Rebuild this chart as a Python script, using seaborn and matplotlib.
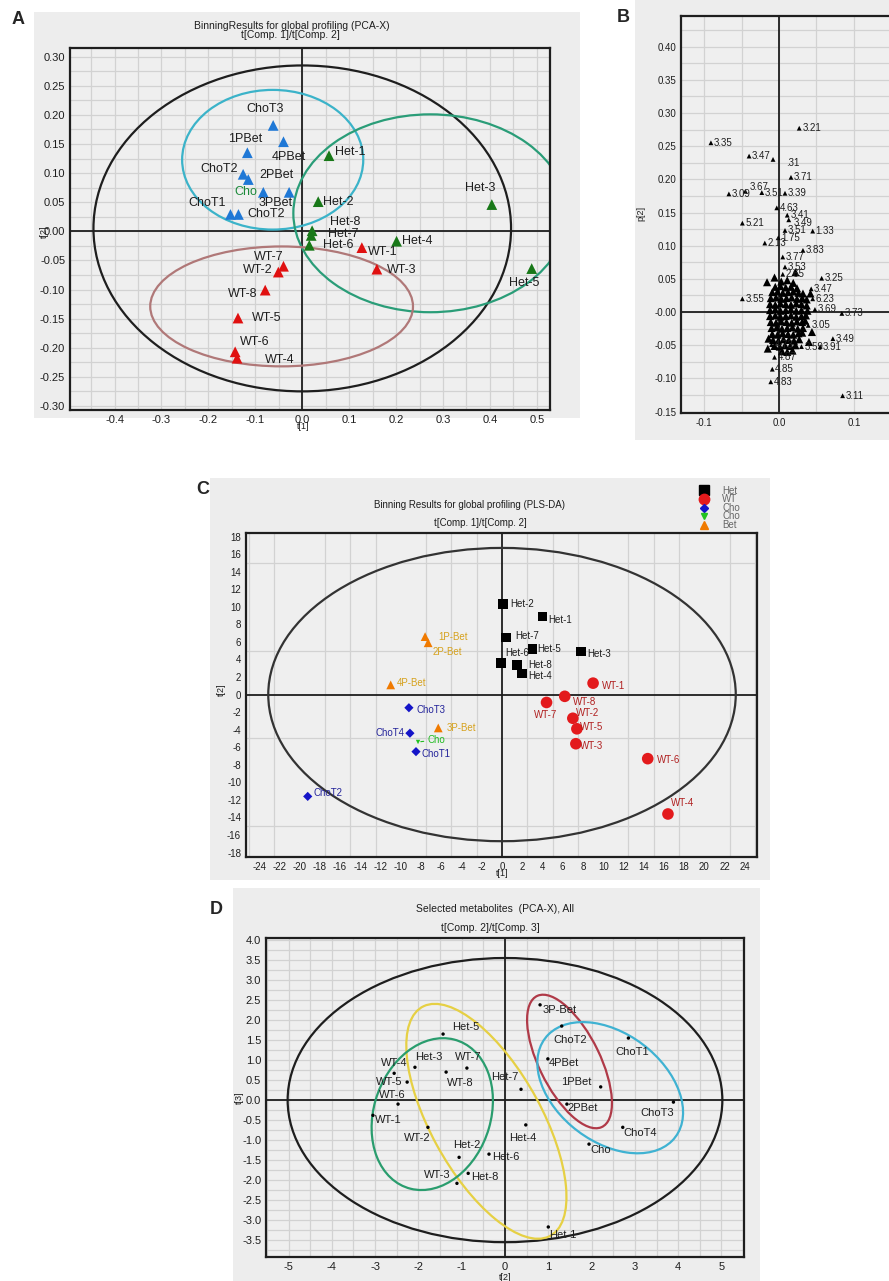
import numpy as np
import pandas as pd
import matplotlib.pyplot as plt
import seaborn as sns
from matplotlib.patches import Ellipse, Rectangle
from matplotlib.ticker import MultipleLocator, FuncFormatter
from matplotlib.lines import Line2D

sns.set_style("white")
plt.rcParams["font.family"] = ["Liberation Sans", "DejaVu Sans"]
plt.rcParams["axes.unicode_minus"] = False

W, H = 889, 1281
BOX = "#ededed"
BG = "#efefef"
GRID = "#d2d2d2"
INK = "#1e1e1e"

# ---------------- panel A : PCA-X scores ----------------
a_names = ["ChoT3", "4PBet", "1PBet", "ChoT2", "2PBet", "Cho", "3PBet", "ChoT1", "ChoT2",
           "Het-1", "Het-2", "Het-3", "Het-8", "Het-7", "Het-6", "Het-4", "Het-5",
           "WT-1", "WT-3", "WT-7", "WT-2", "WT-8", "WT-5", "WT-6", "WT-4"]
a_t1 = [-0.062, -0.040, -0.117, -0.126, -0.115, -0.083, -0.028, -0.153, -0.136,
        0.057, 0.034, 0.404, 0.021, 0.019, 0.015, 0.201, 0.489,
        0.127, 0.159, -0.040, -0.051, -0.079, -0.137, -0.143, -0.139]
a_t2 = [0.182, 0.154, 0.135, 0.098, 0.089, 0.067, 0.067, 0.029, 0.029,
        0.130, 0.051, 0.046, 0.001, -0.007, -0.024, -0.017, -0.064,
        -0.028, -0.065, -0.060, -0.070, -0.101, -0.149, -0.207, -0.218]
a_group = ["ChoBet"] * 9 + ["Het"] * 8 + ["WT"] * 8
# confidence ellipses: centre x, centre y, width, height
a_ell_cx = [0.0, -0.063, 0.273, -0.044]
a_ell_cy = [0.005, 0.123, 0.031, -0.129]
a_ell_w = [0.89, 0.386, 0.584, 0.56]
a_ell_h = [0.56, 0.24, 0.34, 0.206]

# ---------------- panel B : loadings ----------------
b_names = ["3.21", "3.35", "3.47", ".31", "3.71", "3.09", "3.67", "3.51", "3.39", "4.63",
           "3.41", "3.49", "5.21", "3.51", "1.33", "2.13", "1.75", "3.77", "3.83", "3.53",
           "2.65", "3.25", "3.47", "3.55", "6.23", "3.69", "3.73", "3.05", "3.49", "3.91",
           "4.73", "3.59", "4.87", "4.85", "4.83", "3.11"]
b_p1 = [0.027, -0.091, -0.040, -0.008, 0.016, -0.067, -0.045, -0.023, 0.008, -0.003,
        0.011, 0.013, -0.049, 0.008, 0.045, -0.019, -0.001, 0.005, 0.032, 0.008,
        0.005, 0.057, 0.043, -0.049, 0.045, 0.048, 0.084, 0.039, 0.072, 0.055,
        -0.010, 0.030, -0.006, -0.009, -0.011, 0.085]
b_p2 = [0.277, 0.255, 0.235, 0.230, 0.203, 0.178, 0.182, 0.180, 0.179, 0.157,
        0.146, 0.139, 0.134, 0.123, 0.122, 0.104, 0.112, 0.083, 0.093, 0.068,
        0.057, 0.051, 0.035, 0.020, 0.020, 0.004, -0.002, -0.020, -0.040, -0.052,
        -0.049, -0.052, -0.068, -0.086, -0.105, -0.126]
# the dense, unlabeled core of the loading cloud
b_core_p1 = [0.003, 0.011, 0.019,
             -0.005, 0.002, 0.009, 0.016, 0.024,
             -0.009, -0.002, 0.005, 0.012, 0.019, 0.026, 0.032,
             -0.011, -0.004, 0.003, 0.010, 0.017, 0.024, 0.031, 0.037,
             -0.012, -0.005, 0.002, 0.009, 0.016, 0.023, 0.030, 0.037,
             -0.012, -0.005, 0.002, 0.009, 0.016, 0.023, 0.030, 0.038,
             -0.012, -0.005, 0.002, 0.009, 0.016, 0.023, 0.030, 0.036,
             -0.011, -0.004, 0.003, 0.010, 0.017, 0.024, 0.031, 0.035,
             -0.010, -0.003, 0.004, 0.011, 0.018, 0.025, 0.032,
             -0.009, -0.002, 0.005, 0.012, 0.019, 0.026, 0.031,
             -0.008, -0.001, 0.006, 0.013, 0.020, 0.027,
             -0.006, 0.001, 0.008, 0.015, 0.022,
             0.004, 0.011, 0.018,
             -0.016, -0.014, 0.042, 0.044, 0.040, -0.015, 0.022, -0.006]
b_core_p2 = [0.046, 0.048, 0.044,
             0.038, 0.039, 0.037, 0.038, 0.036,
             0.030, 0.031, 0.029, 0.030, 0.031, 0.029, 0.028,
             0.021, 0.022, 0.020, 0.021, 0.022, 0.020, 0.021, 0.019,
             0.012, 0.011, 0.013, 0.012, 0.011, 0.013, 0.012, 0.010,
             0.003, 0.004, 0.002, 0.003, 0.004, 0.002, 0.003, 0.002,
             -0.006, -0.005, -0.007, -0.006, -0.005, -0.007, -0.006, -0.005,
             -0.015, -0.016, -0.014, -0.015, -0.016, -0.014, -0.015, -0.013,
             -0.024, -0.023, -0.025, -0.024, -0.023, -0.025, -0.024,
             -0.033, -0.034, -0.032, -0.033, -0.034, -0.032, -0.031,
             -0.042, -0.043, -0.041, -0.042, -0.043, -0.041,
             -0.051, -0.052, -0.050, -0.051, -0.050,
             -0.059, -0.060, -0.058,
             0.045, -0.040, 0.028, -0.030, -0.045, -0.055, 0.060, 0.052]

# ---------------- panel C : PLS-DA scores ----------------
c_names = ["Het-2", "Het-1", "Het-7", "Het-5", "Het-3", "Het-6", "Het-8", "Het-4",
           "WT-1", "WT-8", "WT-7", "WT-2", "WT-5", "WT-3", "WT-6", "WT-4",
           "ChoT3", "ChoT4", "ChoT1", "ChoT2", "Cho",
           "1P-Bet", "2P-Bet", "4P-Bet", "3P-Bet"]
c_t1 = [0.1, 4.0, 0.4, 3.0, 7.8, -0.1, 1.5, 2.0,
        9.0, 6.2, 4.4, 7.0, 7.4, 7.3, 14.4, 16.4,
        -9.2, -9.1, -8.5, -19.2, -8.3,
        -7.6, -7.3, -11.0, -6.3]
c_t2 = [10.3, 8.9, 6.5, 5.2, 4.9, 3.6, 3.4, 2.4,
        1.3, -0.2, -0.9, -2.7, -3.9, -5.6, -7.3, -13.6,
        -1.5, -4.4, -6.5, -11.6, -5.4,
        6.6, 5.9, 1.1, -3.8]
c_class = ["Het"] * 8 + ["WT"] * 8 + ["Cho"] * 4 + ["Cho "] + ["Bet"] * 4
c_legend = ["Het", "WT", "Cho", "Cho ", "Bet"]

# ---------------- panel D : selected metabolites ----------------
d_names = ["Het-5", "Het-3", "WT-7", "WT-8", "WT-4", "WT-5", "WT-6", "WT-1", "WT-2",
           "Het-2", "WT-3", "Het-8", "Het-6", "Het-7", "Het-4", "Het-1",
           "3P-Bet", "ChoT2", "ChoT1", "4PBet", "1PBet", "2PBet", "ChoT3", "ChoT4", "Cho"]
d_t2 = [-1.43, -2.08, -0.88, -1.36, -2.56, -2.26, -2.47, -3.05, -1.78,
        -1.06, -1.11, -0.85, -0.37, 0.37, 0.48, 1.00,
        0.81, 1.31, 2.85, 0.99, 2.21, 1.43, 3.89, 2.72, 1.94]
d_t3 = [1.65, 0.82, 0.80, 0.70, 0.67, 0.45, -0.10, -0.38, -0.68,
        -1.43, -2.08, -1.83, -1.35, 0.27, -0.62, -3.17,
        2.38, 1.85, 1.55, 1.03, 0.33, -0.10, -0.05, -0.68, -1.10]
d_ell_cx = [0.0, -0.43, -1.68, 1.49, 2.43]
d_ell_cy = [0.0, -0.53, -0.35, 0.965, 0.31]
d_ell_w = [10.04, 6.44, 3.86, 3.6, 3.9]
d_ell_h = [7.1, 2.58, 2.71, 1.42, 2.62]
d_ell_ang = [0, -63.3, 75, -65.9, -43]

# ---------------- layout / label placement ----------------
a_off = [(-8, 16, "center"), (5, -15, "center"), (-2, 14, "center"), (-5, 5, "right"),
         (11, 5, "left"), (-6, 0, "right"), (-13, -11, "center"), (-5, 11, "right"),
         (9, 0, "left"), (6, 4, "left"), (5, 0, "left"), (-12, 17, "center"),
         (18, 9, "left"), (17, 1, "left"), (14, 0, "left"), (5, 0, "left"),
         (-8, -14, "center"), (6, -4, "left"), (10, -1, "left"), (0, 9, "right"),
         (-6, 2, "right"), (-8, -4, "right"), (14, 0, "left"), (5, 10, "left"),
         (28, -2, "left")]
b_off = {3: (13, -4), 6: (4, 4), 11: (5, -3)}
c_off = [(7, 0, "left"), (6, -4, "left"), (9, 1, "left"), (5, 0, "left"), (6, -2, "left"),
         (4, 10, "left"), (11, 0, "left"), (6, -3, "left"),
         (9, -3, "left"), (8, -6, "left"), (-1, -13, "center"), (3, 5, "left"),
         (3, 2, "left"), (4, -2, "left"), (9, -1, "left"), (15, 11, "center"),
         (8, -2, "left"), (-5, 0, "right"), (6, -2, "left"), (6, 3, "left"), (9, 2, "left"),
         (13, 0, "left"), (4, -9, "left"), (6, 2, "left"), (8, 0, "left")]
d_off = [(9, 7, "left"), (0, 10, "left"), (1, 11, "center"), (1, -11, "left"),
         (0, 10, "center"), (-5, 0, "right"), (-6, 9, "center"), (2, -5, "left"),
         (-11, -11, "center"), (8, 12, "center"), (-6, 8, "right"), (3, -4, "left"),
         (3, -3, "left"), (-3, 12, "right"), (-3, -13, "center"), (1, -8, "left"),
         (2, -5, "left"), (8, -14, "center"), (4, -14, "center"), (1, -4, "left"),
         (-9, 5, "right"), (1, -4, "left"), (-16, -11, "center"), (1, -6, "left"),
         (1, -6, "left")]

fig = plt.figure(figsize=(W / 100, H / 100), dpi=100, facecolor="white")


def px_axes(x0, y0, x1, y1):
    return fig.add_axes([x0 / W, 1 - y1 / H, (x1 - x0) / W, (y1 - y0) / H])


def gray_box(x0, y0, x1, y1):
    fig.add_artist(Rectangle((x0 / W, 1 - y1 / H), (x1 - x0) / W, (y1 - y0) / H,
                             transform=fig.transFigure, facecolor=BOX,
                             edgecolor="none", zorder=0))


def ftext(x, y, s, **kw):
    fig.text(x / W, 1 - y / H, s, **kw)


def fmt(dec, zero=None):
    def f(v, _):
        if abs(v) < 1e-9:
            return zero if zero is not None else f"{0:.{dec}f}"
        return f"{v:.{dec}f}"
    return FuncFormatter(f)


def style(ax, xlim, ylim, xmaj, xmin, ymaj, ymin, size):
    ax.set_xlim(*xlim)
    ax.set_ylim(*ylim)
    ax.set_facecolor(BG)
    ax.xaxis.set_major_locator(MultipleLocator(xmaj))
    ax.xaxis.set_minor_locator(MultipleLocator(xmin))
    ax.yaxis.set_major_locator(MultipleLocator(ymaj))
    ax.yaxis.set_minor_locator(MultipleLocator(ymin))
    ax.grid(which="both", color=GRID, lw=0.9)
    ax.set_axisbelow(True)
    for s in ax.spines.values():
        s.set_color(INK)
        s.set_linewidth(1.6)
    ax.tick_params(which="major", direction="inout", length=5, width=1.2,
                   labelsize=size, pad=1, colors=INK)
    ax.tick_params(which="minor", direction="inout", length=3, width=1, colors=INK)
    ax.axhline(0, color=INK, lw=1.3, zorder=1)
    ax.axvline(0, color=INK, lw=1.3, zorder=1)
    ax.set_xlabel("")
    ax.set_ylabel("")


# ======================= A =======================
gray_box(34, 12, 580, 418)
axA = px_axes(70, 48, 550, 410)
style(axA, (-0.495, 0.528), (-0.307, 0.315), 0.1, 0.05, 0.05, 0.025, 8)
axA.xaxis.set_major_formatter(fmt(1))
axA.yaxis.set_major_formatter(fmt(2))
for cx, cy, w, h, col in zip(a_ell_cx, a_ell_cy, a_ell_w, a_ell_h,
                             [INK, "#3bb3c9", "#2a9d78", "#b07878"]):
    axA.add_patch(Ellipse((cx, cy), w, h, fill=False, ec=col, lw=1.6, zorder=2))
sns.scatterplot(x=a_t1, y=a_t2, hue=a_group, marker="^", s=60, edgecolor="none",
                palette={"ChoBet": "#1f78d6", "Het": "#187818", "WT": "#e01010"},
                legend=False, ax=axA, zorder=5)
for name, x, y, (dx, dy, ha) in zip(a_names, a_t1, a_t2, a_off):
    axA.annotate(name, (x, y), xytext=(dx, dy), textcoords="offset pixels",
                 ha=ha, va="center", fontsize=9,
                 color="#1c8a3a" if name == "Cho" else INK, zorder=6)
ftext(292, 26, "BinningResults for global profiling (PCA-X)", ha="center", va="center",
      fontsize=7.5, color=INK)
ftext(290, 35, "t[Comp. 1]/t[Comp. 2]", ha="center", va="center", fontsize=7.5, color=INK)
ftext(44, 232, "t[2]", rotation=90, ha="center", va="center", fontsize=6.5, color=INK)
ftext(303, 427, "t[1]", ha="center", va="center", fontsize=6.5, color=INK)
ftext(12, 20, "A", fontsize=13, fontweight="bold", ha="left", va="center")

# ======================= B =======================
gray_box(635, 0, 889, 440)
axB = px_axes(681, 16, 889, 413)
style(axB, (-0.131, 0.147), (-0.152, 0.446), 0.1, 0.05, 0.05, 0.025, 7)
axB.xaxis.set_major_formatter(fmt(1))
axB.yaxis.set_major_formatter(fmt(2, "-0.00"))
axB.spines["right"].set_visible(False)
sns.scatterplot(x=b_core_p1, y=b_core_p2, marker="^", s=34, color="black",
                edgecolor="none", legend=False, ax=axB, zorder=4)
sns.scatterplot(x=b_p1, y=b_p2, marker="^", s=12, color="black",
                edgecolor="none", legend=False, ax=axB, zorder=4)
for i, (name, x, y) in enumerate(zip(b_names, b_p1, b_p2)):
    dx, dy = b_off.get(i, (3, 0))
    axB.annotate(name, (x, y), xytext=(dx, dy), textcoords="offset pixels",
                 ha="left", va="center", fontsize=7, color=INK, zorder=6)
ftext(641, 213, "p[2]", rotation=90, ha="center", va="center", fontsize=6.5, color=INK)
ftext(617, 17, "B", fontsize=13, fontweight="bold", ha="left", va="center")

# ======================= C =======================
gray_box(210, 478, 770, 880)
axC = px_axes(246, 533, 757, 857)
style(axC, (-25.3, 25.2), (-18.5, 18.4), 2, 2.5, 2, 5, 7)
axC.grid(which="major", visible=False)
axC.grid(which="minor", color=GRID, lw=0.9)
axC.xaxis.set_major_formatter(fmt(0))
axC.yaxis.set_major_formatter(fmt(0))
axC.tick_params(which="minor", length=0)
axC.add_patch(Ellipse((0, 0), 46.2, 33.4, fill=False, ec="#333333", lw=1.6, zorder=2))
c_pal = {"Het": "black", "WT": "#e31a1c", "Cho": "#1414c8", "Cho ": "#22c322", "Bet": "#f07a00"}
c_mark = {"Het": "s", "WT": "o", "Cho": "D", "Cho ": "v", "Bet": "^"}
c_size = {"Het": 48, "WT": 70, "Cho": 22, "Cho ": 10, "Bet": 40}
for g in c_legend:
    idx = [i for i, c in enumerate(c_class) if c == g]
    sns.scatterplot(x=[c_t1[i] for i in idx], y=[c_t2[i] for i in idx],
                    marker=c_mark[g], s=c_size[g], color=c_pal[g], edgecolor="none",
                    legend=False, ax=axC, zorder=5)
c_txt = {"Het": INK, "WT": "#b02020", "Cho": "#24249a", "Cho ": "#22bb22", "Bet": "#d6a21e"}
for name, x, y, g, (dx, dy, ha) in zip(c_names, c_t1, c_t2, c_class, c_off):
    kw = {}
    if g == "Cho ":
        kw["arrowprops"] = dict(arrowstyle="-", color=c_txt[g], lw=0.8,
                                shrinkA=0, shrinkB=2)
    axC.annotate(name, (x, y), xytext=(dx, dy), textcoords="offset pixels",
                 ha=ha, va="center", fontsize=7, color=c_txt[g], zorder=6, **kw)
handles = [Line2D([], [], ls="", marker=c_mark[g], color=c_pal[g],
                  markersize={"Het": 7, "WT": 7.5, "Cho": 4.5, "Cho ": 5, "Bet": 6}[g])
           for g in c_legend]
axC.legend(handles, [g.strip() for g in c_legend], loc="upper left",
           bbox_to_anchor=(694 / W, 1 - 481 / H), bbox_transform=fig.transFigure,
           frameon=False, fontsize=7, labelspacing=-0.15, handlelength=1.0,
           handletextpad=1.4, borderpad=0, labelcolor="#666666")
ftext(470, 505, "Binning Results for global profiling (PLS-DA)", ha="center", va="center",
      fontsize=7, color=INK)
ftext(480, 523, "t[Comp. 1]/t[Comp. 2]", ha="center", va="center", fontsize=7, color=INK)
ftext(221, 690, "t[2]", rotation=90, ha="center", va="center", fontsize=6.5, color=INK)
ftext(502, 874, "t[1]", ha="center", va="center", fontsize=6.5, color=INK)
ftext(196, 490, "C", fontsize=13, fontweight="bold", ha="left", va="center")

# ======================= D =======================
gray_box(233, 888, 760, 1281)
axD = px_axes(266, 938, 744, 1257)
style(axD, (-5.52, 5.52), (-3.92, 4.05), 1, 0.5, 0.5, 0.25, 8)
axD.xaxis.set_major_formatter(fmt(0))
axD.yaxis.set_major_formatter(fmt(1))
for cx, cy, w, h, a, col in zip(d_ell_cx, d_ell_cy, d_ell_w, d_ell_h, d_ell_ang,
                                [INK, "#e6d044", "#2a9d6e", "#b03a48", "#3fb2d2"]):
    axD.add_patch(Ellipse((cx, cy), w, h, angle=a, fill=False, ec=col, lw=1.6, zorder=2))
sns.scatterplot(x=d_t2, y=d_t3, s=6, color="black", edgecolor="none",
                legend=False, ax=axD, zorder=5)
for name, x, y, (dx, dy, ha) in zip(d_names, d_t2, d_t3, d_off):
    axD.annotate(name, (x, y), xytext=(dx, dy), textcoords="offset pixels",
                 ha=ha, va="center", fontsize=8, color=INK, zorder=6)
ftext(495, 909, "Selected metabolites  (PCA-X), All", ha="center", va="center",
      fontsize=7.5, color=INK)
ftext(490, 928, "t[Comp. 2]/t[Comp. 3]", ha="center", va="center", fontsize=7.5, color=INK)
ftext(239, 1098, "t[3]", rotation=90, ha="center", va="center", fontsize=6.5, color=INK)
ftext(505, 1278, "t[2]", ha="center", va="center", fontsize=6.5, color=INK)
ftext(210, 910, "D", fontsize=13, fontweight="bold", ha="left", va="center")

fig.savefig("out.png", dpi=100, facecolor="white")
